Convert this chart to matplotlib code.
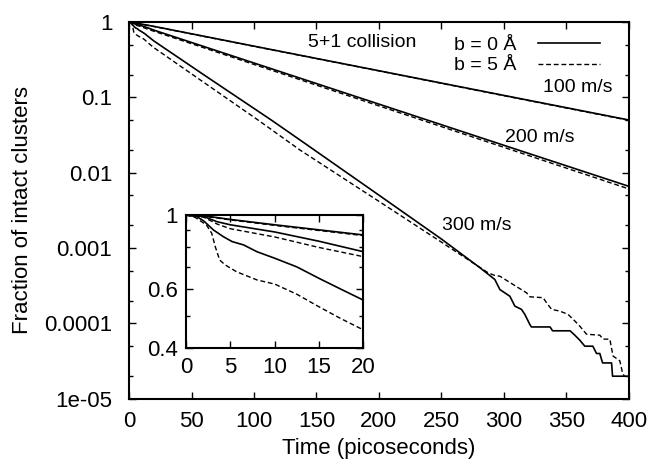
import matplotlib
matplotlib.use('Agg')
import matplotlib.pyplot as plt
from matplotlib.ticker import FixedLocator, FixedFormatter, NullFormatter

plt.rcParams['font.family'] = ['Liberation Sans', 'DejaVu Sans']

# fraction of intact clusters vs time (ps)
t_100 = [0, 2, 5, 10, 15, 20, 100, 200, 300, 400]
f_100_b0 = [1, 0.995, 0.97, 0.935, 0.903, 0.872, 0.477, 0.225, 0.106, 0.050]
f_100_b5 = [1, 0.992, 0.967, 0.931, 0.899, 0.868, 0.474, 0.224, 0.105, 0.0495]

t_200 = [0, 2, 3.5, 5, 10, 15, 20, 100, 200, 300, 400]
f_200_b0 = [1, 0.99, 0.955, 0.935, 0.89, 0.835, 0.777, 0.285, 0.0812, 0.0231, 0.0066]
f_200_b5 = [1, 0.985, 0.94, 0.91, 0.86, 0.80, 0.751, 0.273, 0.0769, 0.0217, 0.0061]

t_300_b0 = [0, 1.2, 2, 3.1, 4.2, 5.2, 6.5, 8, 10, 12.5, 15, 17.5, 20, 60, 113.8,
            136.8, 200, 250, 280.8, 292.8, 296.8, 304.8, 308.8, 314.1, 316.8,
            320.8, 322, 337, 339, 353, 356.8, 360.8, 364.8, 371.2, 374.2, 376.8,
            379, 386.2, 387, 400]
f_300_b0 = [1, 0.99, 0.96, 0.902, 0.862, 0.833, 0.814, 0.777, 0.743, 0.70, 0.647,
            0.60, 0.557, 0.198, 0.050, 0.0272, 0.00504, 0.00132, 5.5e-4, 3.83e-4,
            2.82e-4, 2.3e-4, 1.7e-4, 1.54e-4, 1.32e-4, 9.7e-5, 9e-5, 9e-5, 8e-5,
            8e-5, 7e-5, 6e-5, 5e-5, 5e-5, 4e-5, 4e-5, 3e-5, 3e-5, 2e-5, 2e-5]

t_300_b5 = [0, 1, 2.3, 2.9, 3.3, 3.8, 4.4, 5.7, 8, 10, 12.5, 15, 17.5, 20, 60,
            103.2, 136.8, 200, 250, 287.4, 292.8, 296.8, 307.4, 318.2, 320.8,
            331.4, 334.2, 338.2, 344.8, 351.4, 356.8, 360.8, 366.2, 376.8, 379.4,
            384.8, 387.4, 392.8, 395, 396.5]
f_300_b5 = [1, 0.985, 0.934, 0.882, 0.804, 0.734, 0.71, 0.677, 0.64, 0.622, 0.58,
            0.532, 0.49, 0.454, 0.157, 0.050, 0.020, 0.00417, 0.0012, 4.7e-4,
            4.33e-4, 4.24e-4, 3.29e-4, 2.55e-4, 2.26e-4, 2.2e-4, 1.88e-4, 1.54e-4,
            1.46e-4, 1.32e-4, 1.08e-4, 9.2e-5, 7.2e-5, 7e-5, 6.2e-5, 6.2e-5,
            3.7e-5, 3.2e-5, 2.2e-5, 2e-5]

x_ticks = [0, 50, 100, 150, 200, 250, 300, 350, 400]
y_ticks = [1e-5, 1e-4, 1e-3, 1e-2, 1e-1, 1]
y_labels = ['1e-05', '0.0001', '0.001', '0.01', '0.1', '1']
y_minor = [2e-5, 5e-5, 2e-4, 5e-4, 2e-3, 5e-3, 2e-2, 5e-2, 0.2, 0.5]

inset_x_ticks = [0, 5, 10, 15, 20]
inset_y_ticks = [0.4, 0.6, 1]
inset_y_labels = ['0.4', '0.6', '1']
inset_y_minor = [0.5, 0.7, 0.8, 0.9]

series = [
    (t_100, f_100_b0, '-'), (t_100, f_100_b5, '--'),
    (t_200, f_200_b0, '-'), (t_200, f_200_b5, '--'),
    (t_300_b0, f_300_b0, '-'), (t_300_b5, f_300_b5, '--'),
]


def draw(ax):
    handles = {}
    for t, f, ls in series:
        if ls == '-':
            ln, = ax.plot(t, f, color='black', lw=1.2, ls='-')
        else:
            ln, = ax.plot(t, f, color='black', lw=1.0, ls=(0, (3.5, 2)))
        handles[ls] = ln
    ax.set_yscale('log')
    for s in ax.spines.values():
        s.set_linewidth(1.5)
    ax.tick_params(which='both', direction='in', top=True, right=True,
                   labelsize=16, width=1.0)
    ax.tick_params(which='major', length=5)
    ax.tick_params(which='minor', length=3)
    return handles


fig = plt.figure(figsize=(6.55, 4.66), dpi=100)
ax = fig.add_axes([0.197, 0.144, 0.763, 0.809])
h = draw(ax)
ax.set_xlim(0, 400)
ax.set_ylim(1e-5, 1)
ax.xaxis.set_major_locator(FixedLocator(x_ticks))
ax.yaxis.set_major_locator(FixedLocator(y_ticks))
ax.yaxis.set_major_formatter(FixedFormatter(y_labels))
ax.yaxis.set_minor_locator(FixedLocator(y_minor))
ax.yaxis.set_minor_formatter(NullFormatter())
ax.tick_params(axis='y', pad=12)
ax.tick_params(axis='x', pad=9)
ax.set_xlabel('Time (picoseconds)', fontsize=16, labelpad=4)
ax.set_ylabel('Fraction of intact clusters', fontsize=16, labelpad=8)

ax.text(0.358, 0.946, '5+1 collision', transform=ax.transAxes, fontsize=14,
        ha='left', va='center')
ax.legend([h['-'], h['--']], ['b = 0 Å', 'b = 5 Å'], markerfirst=False,
          frameon=False, loc='upper right', bbox_to_anchor=(0.942, 0.962),
          fontsize=14, handlelength=3.2, handletextpad=1.1, labelspacing=0.15,
          borderpad=0, borderaxespad=0)

ax.text(387, 0.133, '100 m/s', fontsize=14, ha='right', va='center')
ax.text(300.8, 0.029, '200 m/s', fontsize=14, ha='left', va='center')
ax.text(250.4, 0.00199, '300 m/s', fontsize=14, ha='left', va='center')

ins = fig.add_axes([0.284, 0.2526, 0.2707, 0.286])
draw(ins)
ins.set_xlim(0, 20)
ins.set_ylim(0.4, 1)
ins.xaxis.set_major_locator(FixedLocator(inset_x_ticks))
ins.yaxis.set_major_locator(FixedLocator(inset_y_ticks))
ins.yaxis.set_major_formatter(FixedFormatter(inset_y_labels))
ins.yaxis.set_minor_locator(FixedLocator(inset_y_minor))
ins.yaxis.set_minor_formatter(NullFormatter())
ins.tick_params(axis='both', pad=6)

fig.savefig('out.png', dpi=100)
